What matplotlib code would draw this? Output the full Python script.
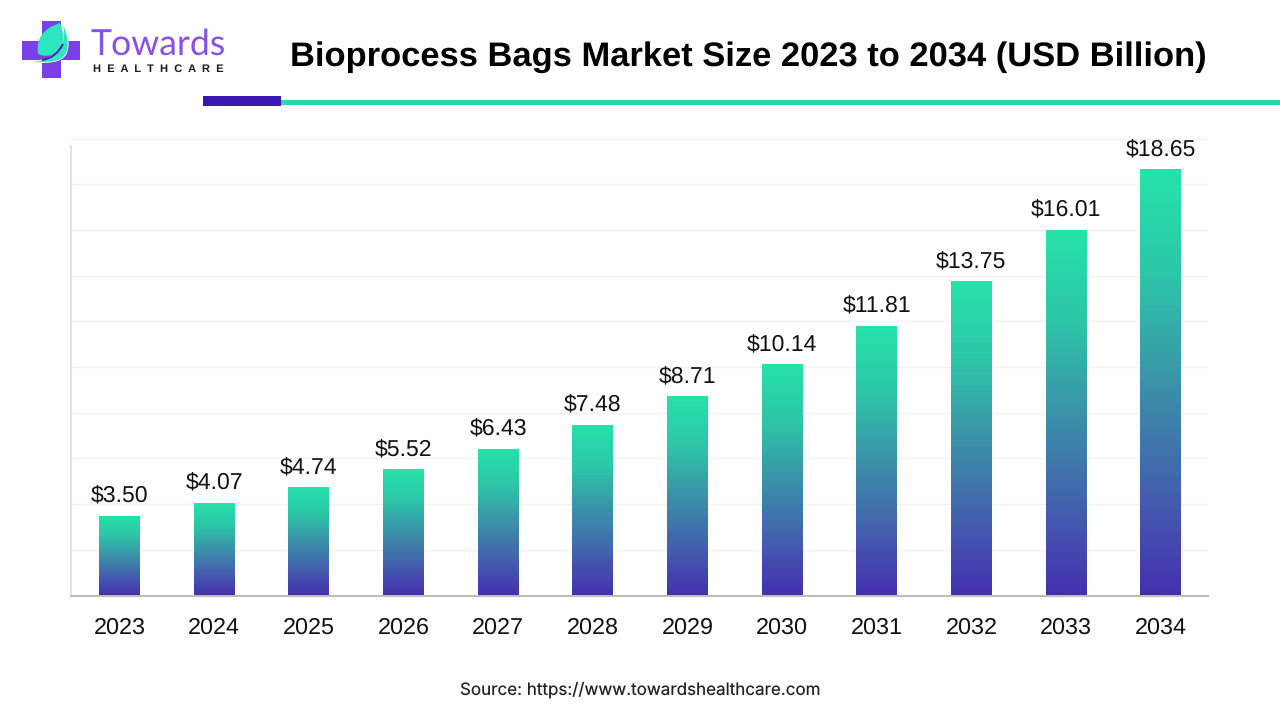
"""Bioprocess bags market size bar chart with gradient bars and header logo."""

import matplotlib

matplotlib.use("Agg")
import matplotlib.pyplot as plt
import numpy as np
from matplotlib.colors import LinearSegmentedColormap
from matplotlib.patches import PathPatch, Rectangle
from matplotlib.path import Path

years = ["2023", "2024", "2025", "2026", "2027", "2028", "2029", "2030", "2031", "2032", "2033", "2034"]
market_size = [3.50, 4.07, 4.74, 5.52, 6.43, 7.48, 8.71, 10.14, 11.81, 13.75, 16.01, 18.65]
grid_ticks = [0, 2, 4, 6, 8, 10, 12, 14, 16, 18, 20]

BAR_STOPS = ["#4530B0", "#4362AE", "#3A93A8", "#2DC6A9", "#26E3A8"]
LOGO_PURPLE = "#7B3FE8"
LOGO_TEAL = "#2CE6C2"
W, H = 1280, 720

plt.rcParams["font.family"] = ["Liberation Sans", "DejaVu Sans"]
plt.rcParams["text.hinting"] = "no_hinting"

fig = plt.figure(figsize=(W / 100, H / 100), dpi=100, facecolor="white")

# plot area, in pixels: x 71-1208, y 138.5-595.5
ax = fig.add_axes([71 / W, 1 - 595.5 / H, (1208 - 71) / W, (595.5 - 138.5) / H])

cmap = LinearSegmentedColormap.from_list("bar", BAR_STOPS)
gradient = np.linspace(0, 1, 256).reshape(-1, 1)
x = np.arange(len(years))
bars = ax.bar(x, market_size, width=0.43, color="none", zorder=3)
for bar, val in zip(bars, market_size):
    left, right = bar.get_x(), bar.get_x() + bar.get_width()
    im = ax.imshow(gradient, extent=[left, right, 0, val], origin="lower", cmap=cmap,
                   aspect="auto", zorder=3)
    im.set_clip_path(bar)
    ax.annotate(f"${val:.2f}", (bar.get_x() + bar.get_width() / 2, val), xytext=(0, 6.5),
                textcoords="offset points", ha="center", va="bottom", fontsize=16.6, color="#111111")
ax.set_xlim(-0.512, 11.5)
ax.set_ylim(0, 20)

ax.set_yticks(grid_ticks)
ax.set_yticklabels([])
ax.grid(axis="y", color="#F1F1F1", linewidth=1)
ax.set_axisbelow(True)
ax.set_xticks(x, years)
ax.tick_params(axis="x", length=0, pad=15.4, labelsize=16.8, labelcolor="#111111")
ax.tick_params(axis="y", length=0)
for side in ["top", "right"]:
    ax.spines[side].set_visible(False)
ax.spines["left"].set_color("#E4E4E4")
ax.spines["left"].set_linewidth(1.5)
ax.spines["left"].set_bounds(0, 19.65)
ax.spines["bottom"].set_color("#BDBDC0")
ax.spines["bottom"].set_linewidth(1.5)

# overlay in pixel coordinates for the header and logo
over = fig.add_axes([0, 0, 1, 1], facecolor="none")
over.set_xlim(0, W)
over.set_ylim(H, 0)
over.axis("off")

over.text(748, 57.5, "Bioprocess Bags Market Size 2023 to 2034 (USD Billion)", ha="center", va="center",
          fontsize=24.8, fontweight="bold", color="black")
over.add_patch(Rectangle((281, 100), 999, 5, color="#2AD7A8", lw=0))
over.add_patch(Rectangle((203, 96), 78, 10, color="#3A17AE", lw=0))
over.text(640, 689.5, "Source: https://www.towardshealthcare.com", ha="center", va="center",
          fontsize=12.24, color="#222222", family=["Inter", "DejaVu Sans"])

# logo: cross, outer crescent, leaf, vein, wordmark
over.add_patch(Rectangle((41.5, 21), 19.5, 57, color=LOGO_PURPLE, lw=0))
over.add_patch(Rectangle((22, 40.5), 58, 19, color=LOGO_PURPLE, lw=0))
crescent = Path([(62, 21), (72, 42), (66, 54), (60, 66), (24, 61), (45, 63), (58, 52), (67, 38), (62, 21)],
                [Path.MOVETO, Path.CURVE3, Path.CURVE3, Path.CURVE3, Path.CURVE3,
                 Path.CURVE3, Path.CURVE3, Path.CURVE3, Path.CURVE3])
over.add_patch(PathPatch(crescent, facecolor=LOGO_TEAL, edgecolor="white", linewidth=0.6))
leaf = Path([(60, 23), (35, 31), (38, 53), (40, 58), (59, 54), (67, 38), (60, 23)],
            [Path.MOVETO, Path.CURVE3, Path.CURVE3, Path.CURVE3, Path.CURVE3, Path.CURVE3, Path.CURVE3])
over.add_patch(PathPatch(leaf, facecolor=LOGO_TEAL, edgecolor="none"))
vein = Path([(42, 60), (56, 58), (63, 44)], [Path.MOVETO, Path.CURVE3, Path.CURVE3])
over.add_patch(PathPatch(vein, facecolor="none", edgecolor="#3A17AE", linewidth=1.3))
over.text(90, 45, "Towards", ha="left", va="center", fontsize=25.7, color="#8A50E6",
          family=["Lato", "DejaVu Sans"])
over.text(93, 69, "H  E  A  L  T  H  C  A  R  E", ha="left", va="center", fontsize=8, fontweight="bold",
          color="#1A1A1A")

fig.savefig("out.png", dpi=100)
